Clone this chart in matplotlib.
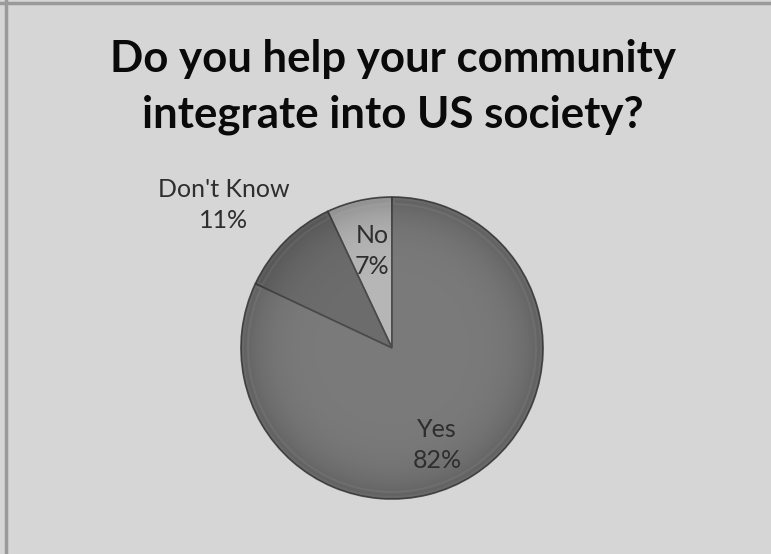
import numpy as np
import matplotlib.pyplot as plt
from matplotlib.patches import Circle, Wedge

labels = ["No", "Don't Know", "Yes"]
shares = [7, 11, 82]
colors = ["#b6b6b6", "#6c6c6c", "#7a7a7a"]
title = "Do you help your community\nintegrate into US society?"

W, H = 771, 554
cx, cy, r = 392, 554 - 348, 151

fig = plt.figure(figsize=(W / 100, H / 100), dpi=100)
fig.patch.set_facecolor("#d6d6d6")
ax = fig.add_axes([0, 0, 1, 1])
ax.set_facecolor("#d6d6d6")

wedges, _ = ax.pie(shares, colors=colors, startangle=90, counterclock=True,
                   center=(cx, cy), radius=r,
                   wedgeprops=dict(edgecolor="#4a4a4a", linewidth=1.2))

# soft bevel: faint light band just inside each slice's rim
for w in wedges:
    t1, t2 = w.theta1, w.theta2
    ax.add_patch(Wedge((cx, cy), r - 2, t1 + 0.8, t2 - 0.8, width=5,
                       facecolor="none", edgecolor="white", lw=1.5, alpha=0.08,
                       zorder=2))

# dark falloff toward the rim, done as an RGBA image clipped to the pie
yy, xx = np.mgrid[-1:1:500j, -1:1:500j]
rr = np.clip(np.sqrt(xx ** 2 + yy ** 2), 0, 1)
rgba = np.zeros((500, 500, 4))
rgba[..., 3] = 0.22 * rr ** 6
img = ax.imshow(rgba, extent=[cx - r, cx + r, cy - r, cy + r], zorder=3,
                interpolation="bilinear")
img.set_clip_path(Circle((cx, cy), r, transform=ax.transData))

# slice labels
label_pos = {"No": (372, 251), "Don't Know": (224, 205), "Yes": (437, 445)}
for name, val in zip(labels, shares):
    x, y = label_pos[name]
    ax.text(x, H - y, f"{name}\n{val}%", ha="center", va="center",
            fontsize=18, family="Lato", color="#2e2e2e", linespacing=1.4,
            zorder=5)

ax.text(393, H - 87, title, ha="center", va="center", fontsize=31.5,
        family="Lato", fontweight="bold", color="#0a0a0a", linespacing=1.45)

# frame lines on the top and left
ax.plot([0, W], [H - 3, H - 3], color="#9a9a9a", lw=2.5, zorder=6)
ax.plot([5.5, 5.5], [0, H], color="#9a9a9a", lw=2.5, zorder=6)

ax.set_xlim(0, W)
ax.set_ylim(0, H)
ax.set_aspect("auto")
ax.axis("off")

fig.savefig("out.png", dpi=100, facecolor=fig.get_facecolor())
